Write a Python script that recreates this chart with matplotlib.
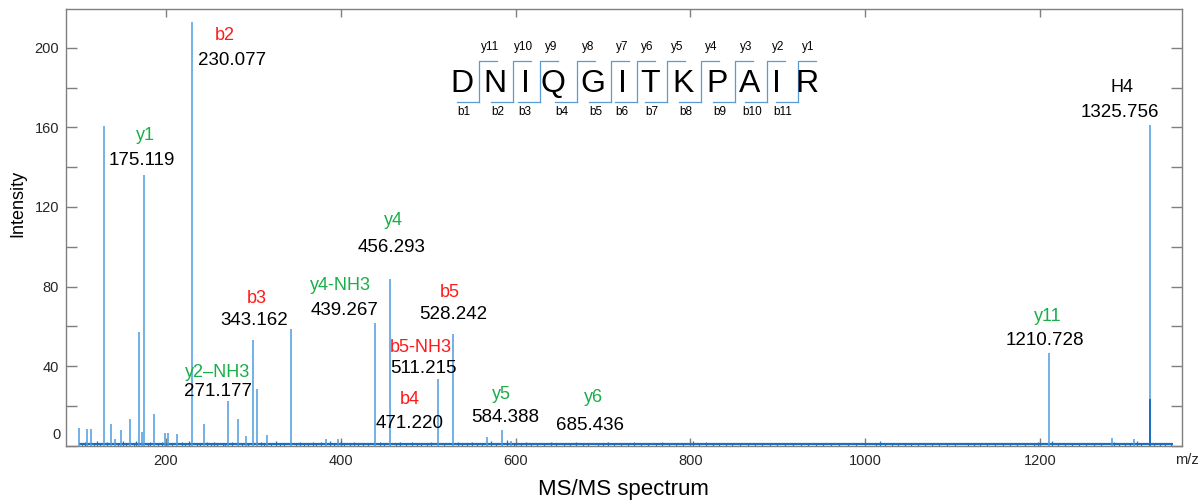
import matplotlib
matplotlib.use('Agg')
import matplotlib.pyplot as plt

plt.rcParams['font.family'] = ['Liberation Sans', 'DejaVu Sans']

# main peaks (m/z, intensity)
peak_mz = [100.8, 110.1, 114.2, 129.1, 137.2, 141.6, 148.7, 158.7, 169.5, 172.9,
           175.119, 186.4, 199.2, 202.4, 212.4, 230.077, 243.1, 271.177, 282.4, 291.7,
           299.3, 304.3, 315.2, 343.162, 383.4, 397.0, 439.267, 456.293, 511.215, 528.242,
           567.6, 584.388, 595.0, 1210.728, 1282.0, 1307.9, 1325.756]
peak_int = [9.0, 8.5, 8.5, 160.5, 11.0, 3.5, 8.0, 13.3, 57.0, 7.0,
            136.0, 16.0, 6.5, 6.5, 6.0, 213.0, 11.0, 22.5, 13.5, 5.0,
            53.0, 28.5, 5.5, 58.5, 3.5, 3.5, 61.5, 83.7, 33.5, 56.0,
            4.3, 8.0, 2.5, 46.7, 4.0, 3.5, 161.0]

# overlapping isotope peak under H4
iso_mz = [1326.3]
iso_int = [23.5]

# low level noise
noise_mz = [104, 107, 118, 121, 124, 133, 145, 151, 154, 163, 166, 179, 182, 191, 195, 207,
            218, 222, 226, 236, 239, 247, 251, 255, 258, 265, 268, 276, 287, 294, 309, 312,
            320, 326, 330, 335, 349, 353, 358, 363, 368, 372, 377, 388, 392, 400, 404, 410,
            415, 420, 426, 431, 445, 450, 463, 468, 475, 481, 487, 492, 499, 503, 518, 534,
            539, 545, 550, 556, 562, 572, 578, 590, 598, 606, 612, 618, 624, 633, 640, 646,
            655, 662, 669, 677, 683, 694, 700, 706, 713, 721, 729, 736, 744, 752, 761, 768,
            776, 784, 792, 803, 810, 818, 826, 833, 841, 848, 857, 866, 874, 882, 891, 899,
            908, 918, 927, 935, 944, 952, 961, 970, 980, 990, 1012, 1017, 1023, 1031, 1038,
            1046, 1053, 1061, 1069, 1077, 1085, 1094, 1103, 1118, 1124, 1131, 1140, 1149,
            1158, 1166, 1174, 1183, 1193, 1198, 1214, 1221, 1229, 1237, 1245, 1253, 1262,
            1270, 1285, 1291, 1297, 1303, 1311, 1316, 1331, 1337, 1343, 1350]
noise_int = [1.5, 2.0, 1.2, 2.2, 1.0, 1.8, 1.3, 2.4, 1.1, 1.6, 2.5, 1.4, 1.9, 1.2, 2.0, 1.5,
             1.8, 1.1, 2.3, 1.4, 1.0, 1.7, 1.2, 2.0, 1.3, 1.6, 1.1, 1.9, 1.4, 1.2, 1.7, 1.1,
             1.5, 2.2, 1.0, 1.6, 1.3, 1.8, 1.1, 1.5, 2.0, 1.2, 1.7, 2.4, 1.3, 2.6, 1.1, 1.5,
             1.9, 1.2, 1.6, 1.0, 2.1, 1.4, 1.2, 1.8, 1.3, 2.0, 1.1, 1.6, 1.3, 1.9, 1.2, 1.7,
             1.1, 1.5, 2.0, 1.2, 1.6, 2.2, 1.4, 2.8, 1.6, 1.3, 1.8, 1.1, 1.6, 1.2, 1.9, 1.1,
             1.5, 1.2, 1.8, 1.1, 1.4, 1.6, 1.2, 1.9, 1.1, 1.5, 1.2, 1.7, 1.1, 1.4, 1.2, 1.8,
             1.1, 1.5, 1.2, 2.4, 1.3, 1.7, 1.1, 1.5, 1.2, 1.6, 1.1, 1.4, 1.2, 1.6, 1.1, 1.5,
             1.2, 1.3, 1.1, 1.5, 1.2, 1.0, 1.4, 1.1, 1.3, 1.2, 1.5, 2.6, 1.2, 1.4, 1.1,
             1.6, 1.2, 1.3, 1.1, 1.5, 1.2, 1.4, 1.1, 1.6, 1.2, 1.4, 1.1, 1.3,
             1.2, 1.5, 1.1, 1.4, 1.6, 2.0, 2.4, 1.3, 1.2, 1.5, 1.1, 1.4, 1.2,
             1.3, 2.0, 1.4, 1.3, 1.5, 2.2, 1.2, 1.5, 1.2, 1.3, 1.1]

# annotations: ion name, colour, position of the m/z text (data), ion text offset (px)
ann_ion = ['b2', 'y1', 'b3', 'y2\u2013NH3', 'y4', 'y4-NH3', 'b5', 'b5-NH3', 'b4', 'y5', 'y6', 'y11', 'H4']
ann_mz = ['230.077', '175.119', '343.162', '271.177', '456.293', '439.267', '528.242',
          '511.215', '471.220', '584.388', '685.436', '1210.728', '1325.756']
ann_col = ['red', 'green', 'red', 'green', 'green', 'green', 'red', 'red', 'red', 'green', 'green', 'green', 'black']
ann_x = [275.5, 172.5, 300.9, 259.5, 458.6, 404.8, 528.4, 494.1, 479.2, 587.9, 685.1, 1205.7, 1291.5]
ann_y = [193.5, 143.4, 63.1, 27.0, 99.8, 68.1, 66.1, 38.6, 11.0, 14.0, 10.0, 53.1, 167.4]
ann_dx = [-7, 3, 3, 0, 1, -5, -3, -2, 0, -4, 4, 3, 2]
ann_dy = [25, 25, 22, 19, 27, 25, 22, 21, 24, 23, 28, 24, 25]

sequence = 'DNIQGITKPAIR'
# layout of the sequence graphic in pixels
seq_x = [461.7, 495, 525, 553.3, 593.3, 622.7, 650, 682.7, 716.7, 749.3, 776.7, 806.7]
cut_x = [479.3, 512.7, 540, 576.7, 611, 636.7, 666.7, 700.7, 735, 767.3, 797.7]

colors = {'red': '#ff1a1a', 'green': '#1aae48', 'black': 'black'}

W, H = 1204, 504
fig = plt.figure(figsize=(W / 100, H / 100), dpi=100)
ax = fig.add_axes([66 / W, 1 - 445.7 / H, (1181.5 - 66) / W, (445.7 - 9.3) / H])

ax.vlines(noise_mz, 0, noise_int, color='#1f77c4', lw=0.9)
ax.hlines(0.8, min(noise_mz) - 4, max(noise_mz) + 2, color='#1a70c0', lw=1.6)
ax.vlines(peak_mz, 0, peak_int, color='#4a9be0', lw=1.1)
ax.vlines(iso_mz, 0, iso_int, color='#1a6fc0', lw=1.4)

ax.set_xlim(85.6, 1362)
ax.set_ylim(0, 219.3)

ax.set_xticks(range(200, 1201, 200))
ax.set_yticks(range(0, 201, 20))
ax.set_yticklabels(['' if v % 40 or v == 0 else str(v) for v in range(0, 201, 20)])
ax.tick_params(axis='both', direction='in', colors='#7f7f7f', labelcolor='#262626',
               labelsize=10.5, top=True, right=True)
ax.tick_params(axis='y', length=8, width=1, pad=5)
ax.tick_params(axis='x', length=5.5, width=1, pad=6)
for s in ax.spines.values():
    s.set_color('#7f7f7f')
    s.set_linewidth(1.0)

fig.text(61 / W, 1 - 435 / H, '0', ha='right', va='center', fontsize=10.5, color='#262626')
fig.text(1187 / W, 1 - 460 / H, 'm/z', ha='center', va='center', fontsize=10.5, color='#262626')
fig.text(18 / W, 1 - 203 / H, 'Intensity', rotation=90, ha='center', va='center', fontsize=13)
fig.text(623.5 / W, 1 - 490 / H, 'MS/MS spectrum', ha='center', va='center', fontsize=16)

for ion, lab, c, x, y, dx, dy in zip(ann_ion, ann_mz, ann_col, ann_x, ann_y, ann_dx, ann_dy):
    ax.text(x, y, lab, ha='center', va='center', fontsize=13.5, color='black')
    ax.annotate(ion, (x, y), xytext=(dx, dy), textcoords='offset pixels',
                ha='center', va='center', fontsize=13, color=colors[c])

# peptide sequence with fragment markers
def fx(x):
    return x / W

def fy(y):
    return 1 - y / H

for aa, x in zip(sequence, seq_x):
    fig.text(fx(x), fy(83.5), aa, ha='center', va='center', fontsize=23)

n = len(sequence)
for i, x in enumerate(cut_x):
    fig.add_artist(plt.Line2D([fx(x), fx(x), fx(x + 18)], [fy(101.7), fy(60.7), fy(60.7)],
                              transform=fig.transFigure, color='#5b9bd5', lw=0.9))
    fig.add_artist(plt.Line2D([fx(x - 22), fx(x)], [fy(101.7), fy(101.7)],
                              transform=fig.transFigure, color='#5b9bd5', lw=0.9))
    fig.text(fx(x + 11), fy(46.7), 'y%d' % (n - 1 - i), ha='center', va='center', fontsize=8.5)
    fig.text(fx(x - 15), fy(111.7), 'b%d' % (i + 1), ha='center', va='center', fontsize=8.5)

fig.savefig('out.png', dpi=100)
